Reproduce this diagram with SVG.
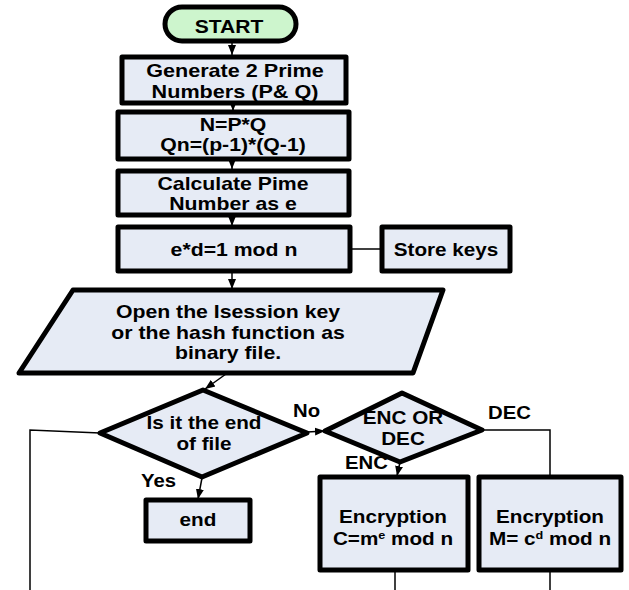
<svg xmlns="http://www.w3.org/2000/svg" width="629" height="590" viewBox="0 0 629 590">
<style>
.box{fill:#e6ebf5;stroke:#000;stroke-width:5;stroke-linejoin:round}
.start{fill:#cdf5cd;stroke:#000;stroke-width:5}
.t{font-family:"Liberation Sans",Arial,sans-serif;font-weight:bold;font-size:18px;text-anchor:middle;fill:#000}
.lbl{font-family:"Liberation Sans",Arial,sans-serif;font-weight:bold;font-size:18px;fill:#000}
.c{fill:none;stroke:#000;stroke-width:1.5}
</style>
<defs>
<marker id="ah" markerUnits="userSpaceOnUse" markerWidth="10" markerHeight="10" viewBox="0 0 10 10" refX="10" refY="5" orient="auto">
<path d="M0,1 L10,5 L0,9 Z" fill="#000"/>
</marker>
</defs>
<rect width="629" height="590" fill="#fff"/>
<g id="connectors">
<line class="c" x1="232" y1="42" x2="232" y2="55" marker-end="url(#ah)"/>
<line class="c" x1="233" y1="104" x2="233" y2="111" marker-end="url(#ah)"/>
<line class="c" x1="232" y1="160" x2="232" y2="169" marker-end="url(#ah)"/>
<line class="c" x1="232" y1="216" x2="232" y2="226" marker-end="url(#ah)"/>
<line class="c" x1="352" y1="249" x2="380" y2="249"/>
<line class="c" x1="232" y1="273" x2="232" y2="289" marker-end="url(#ah)"/>
<line class="c" x1="226" y1="374" x2="205" y2="389" marker-end="url(#ah)"/>
<polyline class="c" points="100,433 30,430 30,590"/>
<line class="c" x1="202" y1="478" x2="198" y2="499" marker-end="url(#ah)"/>
<line class="c" x1="307" y1="432" x2="325" y2="431" marker-end="url(#ah)"/>
<polyline class="c" points="482,430 550,430 550,477"/>
<line class="c" x1="400" y1="462" x2="397" y2="476" marker-end="url(#ah)"/>
<line class="c" x1="395" y1="570" x2="395" y2="590"/>
<line class="c" x1="550" y1="570" x2="550" y2="590"/>
</g>
<g id="start">
<rect class="start" x="165" y="7" width="131" height="34" rx="17"/>
<text class="t" transform="translate(229,33) scale(1.17 1)">START</text>
</g>
<g id="gen">
<rect class="box" x="122" y="57" width="224" height="46"/>
<text class="t" transform="translate(235,77) scale(1.2 1)">Generate 2 Prime</text>
<text class="t" transform="translate(235,98) scale(1.2 1)">Numbers (P&amp; Q)</text>
</g>
<g id="nq">
<rect class="box" x="118" y="112" width="231" height="47"/>
<text class="t" transform="translate(233,131) scale(1.18 1)">N=P*Q</text>
<text class="t" transform="translate(233,151) scale(1.18 1)">Qn=(p-1)*(Q-1)</text>
</g>
<g id="calc">
<rect class="box" x="118" y="171" width="231" height="44"/>
<text class="t" transform="translate(233,190) scale(1.18 1)">Calculate Pime</text>
<text class="t" transform="translate(233,210) scale(1.18 1)">Number as e</text>
</g>
<g id="ed">
<rect class="box" x="118" y="227" width="232" height="44"/>
<text class="t" transform="translate(234,256) scale(1.18 1)">e*d=1 mod n</text>
</g>
<g id="store">
<rect class="box" x="382" y="227" width="128" height="44"/>
<text class="t" transform="translate(446,256) scale(1.15 1)">Store keys</text>
</g>
<g id="open">
<polygon class="box" points="73,290 443,290 413,373 19,373"/>
<text class="t" transform="translate(228,318) scale(1.18 1)">Open the Isession key</text>
<text class="t" transform="translate(228,339) scale(1.18 1)">or the hash function as</text>
<text class="t" transform="translate(228,359) scale(1.18 1)">binary file.</text>
</g>
<g id="eof">
<polygon class="box" points="100,433 203,390 307,433 202,477"/>
<text class="t" transform="translate(204,429) scale(1.15 1)">Is it the end</text>
<text class="t" transform="translate(204,450) scale(1.15 1)">of file</text>
</g>
<g id="encdec">
<polygon class="box" points="325,431 402,393 482,430 400,462"/>
<text class="t" transform="translate(403,424) scale(1.15 1)">ENC OR</text>
<text class="t" transform="translate(403,445) scale(1.15 1)">DEC</text>
</g>
<g id="end">
<rect class="box" x="146" y="500" width="104" height="41"/>
<text class="t" transform="translate(198,526) scale(1.15 1)">end</text>
</g>
<g id="enc">
<rect class="box" x="320" y="477" width="148" height="93"/>
<text class="t" transform="translate(393,523) scale(1.15 1)">Encryption</text>
<text class="t" transform="translate(393,545) scale(1.15 1)">C=m<tspan font-size="11" dy="-6">e</tspan><tspan dy="6"> mod n</tspan></text>
</g>
<g id="dec">
<rect class="box" x="479" y="477" width="142" height="93"/>
<text class="t" transform="translate(550,523) scale(1.15 1)">Encryption</text>
<text class="t" transform="translate(550,545) scale(1.15 1)">M= c<tspan font-size="11" dy="-6">d</tspan><tspan dy="6"> mod n</tspan></text>
</g>
<g id="labels">
<text class="lbl" transform="translate(293,417) scale(1.13 1)">No</text>
<text class="lbl" transform="translate(141,487) scale(1.13 1)">Yes</text>
<text class="lbl" transform="translate(488,419) scale(1.13 1)">DEC</text>
<text class="lbl" transform="translate(345,469) scale(1.13 1)">ENC</text>
</g>
</svg>
